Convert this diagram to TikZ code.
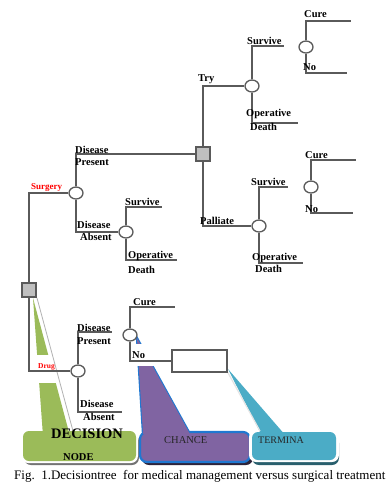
\documentclass[tikz,border=0pt]{standalone}
\usepackage{fontspec}
\setmainfont{Liberation Serif}
\usetikzlibrary{shapes.geometric}
\definecolor{linegray}{HTML}{5A5A5A}
\definecolor{sqgray}{HTML}{BFBFBF}
\definecolor{cgreen}{HTML}{9BBB59}
\definecolor{cpurple}{HTML}{8064A2}
\definecolor{cblue}{HTML}{1F78D1}
\definecolor{cteal}{HTML}{4BACC6}
\begin{document}
\begin{tikzpicture}[x=1pt,y=-1pt,
  br/.style={draw=linegray, line width=1.3pt},
  chs/.style={ellipse, minimum width=14pt, minimum height=12pt, inner sep=0pt, draw=linegray, fill=white, line width=1.3pt},
  dec/.style={rectangle, minimum size=14pt, inner sep=0pt, draw=linegray, fill=sqgray, line width=1.3pt},
  term/.style={rectangle, minimum width=55pt, minimum height=22pt, inner sep=0pt, draw=linegray, fill=white, line width=1.3pt},
  lbl/.style={anchor=base west, inner sep=0pt, font=\fontsize{10.5}{10.5}\selectfont\bfseries},
  rlbl/.style={anchor=base west, inner sep=0pt, text=red, font=\fontsize{9}{9}\selectfont\bfseries},
  ctext/.style={anchor=base west, inner sep=0pt},
]
\useasboundingbox (0,0) rectangle (390,483);
\fill[white] (0,0) rectangle (390,483);

% ---------- green callout (DECISION NODE)
\fill[black!55, rounded corners=7] (24,434) rectangle (139,465);
\fill[white, rounded corners=7] (21,429) rectangle (138,463);
\fill[cgreen] (33,298) -- (43,436) -- (70,436) -- cycle;
\fill[white] (35,355) rectangle (62,383);
\draw[white, line width=1.6pt] (35,299) -- (71,431);
\draw[gray!60, line width=0.8pt] (37,298) -- (73,431);
\fill[cgreen, rounded corners=6] (23,431) rectangle (136,461);

% ---------- purple callout (CHANCE)
\fill[black!65!cpurple, rounded corners=7] (142,435) rectangle (253,465);
\draw[cblue, line width=2.2pt, fill=cpurple] (137,338) -- (143,434) -- (190,434) -- cycle;
\draw[cblue, line width=2.2pt, fill=cpurple, rounded corners=7] (140,432) rectangle (250,462);
\fill[cpurple] (137,338) -- (143,434) -- (190,434) -- cycle;
\fill[white] (131,344) rectangle (160,366);

% ---------- teal callout (TERMINAL)
\fill[black!45!cteal, rounded corners=7] (252,436) rectangle (339,465);
\fill[white, rounded corners=7] (249,430) rectangle (339,462);
\fill[cteal] (228,369) -- (262,436) -- (286,436) -- cycle;
\draw[white!80!gray, line width=1.2pt] (227,371) -- (260,431);
\fill[cteal, rounded corners=6] (252,432) rectangle (336,460);

% ---------- nodes
\node[dec] (S1) at (29,290) {};
\node[chs] (C1) at (76,193) {};
\node[dec] (S2) at (203,154) {};
\node[chs] (C2) at (252,86) {};
\node[chs] (C3) at (259,226) {};
\node[chs] (C4) at (306,47) {};
\node[chs] (C5) at (311,187) {};
\node[chs] (C6) at (126,232) {};
\node[chs] (C7) at (78,371) {};
\node[chs] (C8) at (130,335) {};
\node[term] (T) at (199.5,361) {};

% free ends
\coordinate (c6s) at (162,207);
\coordinate (c6d) at (177,260);
\coordinate (c2s) at (284,46);
\coordinate (c2d) at (298,123);
\coordinate (c3s) at (288,187);
\coordinate (c3d) at (303,263);
\coordinate (c4c) at (351,21);
\coordinate (c4n) at (347,73);
\coordinate (c5c) at (356,160);
\coordinate (c5n) at (353,213);
\coordinate (c7p) at (112,332);
\coordinate (c7a) at (122,412);
\coordinate (c8c) at (175,307);

% ---------- connectors
\draw[br] (C1.west) -| (S1.north);
\draw[br] (S1.south) |- (C7.west);
\draw[br] (C1.north) |- (S2.west);
\draw[br] (C1.south) |- (C6.west);
\draw[br] (S2.north) |- (C2.west);
\draw[br] (S2.south) |- (C3.west);
\draw[br] (C6.north) |- (c6s);
\draw[br] (C6.south) |- (c6d);
\draw[br] (C2.north) |- (c2s);
\draw[br] (C2.south) |- (c2d);
\draw[br] (C3.north) |- (c3s);
\draw[br] (C3.south) |- (c3d);
\draw[br] (C4.north) |- (c4c);
\draw[br] (C4.south) |- (c4n);
\draw[br] (C5.north) |- (c5c);
\draw[br] (C5.south) |- (c5n);
\draw[br] (C7.north) |- (c7p);
\draw[br] (C7.south) |- (c7a);
\draw[br] (C8.north) |- (c8c);
\draw[br] (C8.south) |- (T.west);

% ---------- labels
\node[rlbl] (lsurg) at (31,189) {Surgery};
\node[lbl] (ldp1) at (75,153) {Disease};
\node[lbl] (ldp2) at (75,165) {Present};
\node[lbl] (lda1) at (77,228) {Disease};
\node[lbl] (lda2) at (80,240) {Absent};
\node[lbl] (ls6) at (125,205) {Survive};
\node[lbl] (lo6) at (128,258) {Operative};
\node[lbl] (ld6) at (128,273) {Death};
\node[lbl] (ltry) at (198,81) {Try};
\node[lbl] (ls2) at (247,44) {Survive};
\node[lbl] (lo2) at (246,116) {Operative};
\node[lbl] (ld2) at (250,130) {Death};
\node[lbl] (lc4) at (304,17) {Cure};
\node[lbl] (ln4) at (303,70) {No};
\node[lbl] (lc5) at (305,158) {Cure};
\node[lbl] (ln5) at (305,212) {No};
\node[lbl] (lpal) at (200,224) {Palliate};
\node[lbl] (ls3) at (251,185) {Survive};
\node[lbl] (lo3) at (252,260) {Operative};
\node[lbl] (ld3) at (255,272) {Death};
\node[rlbl, font=\fontsize{7.5}{7.5}\selectfont\bfseries] (ldrug) at (38,368) {Drug};
\node[lbl] (lgp1) at (77,331) {Disease};
\node[lbl] (lgp2) at (77,344) {Present};
\node[lbl] (lga1) at (80,407) {Disease};
\node[lbl] (lga2) at (83,420) {Absent};
\node[lbl] (lc8) at (133,305) {Cure};
\node[lbl] (ln8) at (132,358) {No};

% ---------- callout texts
\node[ctext, font=\fontsize{14.5}{14.5}\selectfont\bfseries] (tdec) at (51,438) {DECISION};
\node[ctext, font=\fontsize{10.5}{10.5}\selectfont\bfseries] (tnode) at (63,460) {NODE};
\node[ctext, font=\fontsize{10.5}{10.5}\selectfont, text=black!85] (tch) at (164,443) {CHANCE};
\node[ctext, font=\fontsize{10}{10}\selectfont, text=black!85] (tter) at (258,443) {TERMINA};

% ---------- caption
\node[ctext, font=\fontsize{13}{13}\selectfont] (cap) at (14,479) {Fig.\ \ 1.Decisiontree\ \ for medical management versus surgical treatment};
\end{tikzpicture}
\end{document}
